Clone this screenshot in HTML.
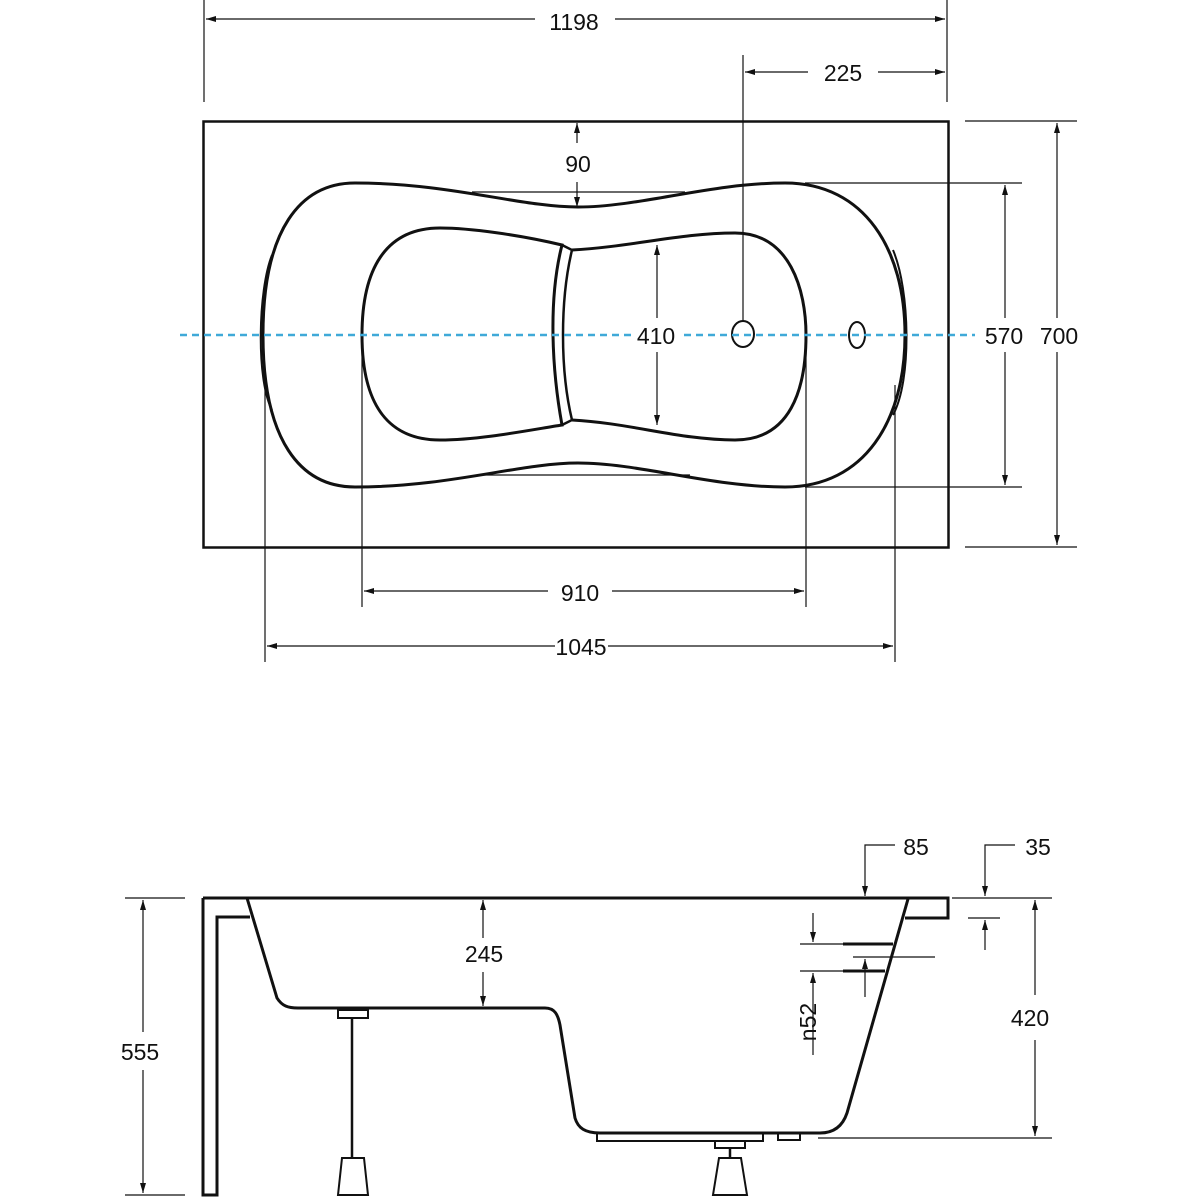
<!DOCTYPE html>
<html><head><meta charset="utf-8"><style>
html,body{margin:0;padding:0;background:#fff;}
svg{display:block;}
text{font-family:"Liberation Sans",Arial,sans-serif;font-size:23px;fill:#111;}
</style></head><body>
<svg width="1200" height="1200" viewBox="0 0 1200 1200" xmlns="http://www.w3.org/2000/svg">
<defs>
<marker id="a" markerWidth="10" markerHeight="6" refX="10" refY="3" orient="auto-start-reverse" markerUnits="userSpaceOnUse">
<path d="M0,0 L10,3 L0,6 z" fill="#111"/></marker>
</defs>
<g stroke="#111" fill="none" stroke-width="1.2">
<line x1="204" y1="0" x2="204" y2="102"/>
<line x1="947" y1="0" x2="947" y2="102"/>
<line x1="206" y1="19" x2="535" y2="19" marker-start="url(#a)"/>
<line x1="615" y1="19" x2="945" y2="19" marker-end="url(#a)"/>
<line x1="743" y1="55" x2="743" y2="322"/>
<line x1="745" y1="72" x2="808" y2="72" marker-start="url(#a)"/>
<line x1="878" y1="72" x2="945" y2="72" marker-end="url(#a)"/>
<line x1="577" y1="123" x2="577" y2="143" marker-start="url(#a)"/>
<line x1="577" y1="182" x2="577" y2="207" marker-end="url(#a)"/>
<line x1="472" y1="192" x2="685" y2="192"/>
<line x1="480" y1="475" x2="690" y2="475"/>
<line x1="657" y1="245" x2="657" y2="318" marker-start="url(#a)"/>
<line x1="657" y1="352" x2="657" y2="425" marker-end="url(#a)"/>
<line x1="805" y1="183" x2="1022" y2="183"/>
<line x1="805" y1="487" x2="1022" y2="487"/>
<line x1="1005" y1="185" x2="1005" y2="318" marker-start="url(#a)"/>
<line x1="1005" y1="352" x2="1005" y2="485" marker-end="url(#a)"/>
<line x1="965" y1="121" x2="1077" y2="121"/>
<line x1="965" y1="547" x2="1077" y2="547"/>
<line x1="1057" y1="123" x2="1057" y2="318" marker-start="url(#a)"/>
<line x1="1057" y1="352" x2="1057" y2="545" marker-end="url(#a)"/>
<line x1="362" y1="335" x2="362" y2="607"/>
<line x1="806" y1="335" x2="806" y2="607"/>
<line x1="364" y1="591" x2="548" y2="591" marker-start="url(#a)"/>
<line x1="612" y1="591" x2="804" y2="591" marker-end="url(#a)"/>
<line x1="265" y1="390" x2="265" y2="662"/>
<line x1="895" y1="385" x2="895" y2="662"/>
<line x1="267" y1="646" x2="555" y2="646" marker-start="url(#a)"/>
<line x1="608" y1="646" x2="893" y2="646" marker-end="url(#a)"/>
</g>
<rect x="203.5" y="121.5" width="745" height="426" fill="none" stroke="#111" stroke-width="2.5"/>
<g stroke="#111" fill="none" stroke-width="3">
<path d="M263,335 C263,230 300,183 355,183 C450,183 520,207 578,207 C640,207 710,183 785,183 C865,183 905,250 905,335 C905,420 865,487 785,487 C710,487 640,463 578,463 C520,463 450,487 355,487 C300,487 263,440 263,335 Z"/>
<path d="M272,255 C258,290 256,380 272,410" stroke-width="2"/>
<path d="M893,250 C910,290 912,380 893,415" stroke-width="2"/>
<path d="M562,245 C520,235 470,228 440,228 C385,228 362,270 362,335 C362,400 385,440 440,440 C480,440 530,430 562,425 C552,370 548,300 562,245 Z"/>
<path d="M562,245 L572,250 C560,300 560,370 572,420 L562,425" stroke-width="2.5"/>
<path d="M572,250 C630,247 680,233 735,233 C790,233 806,290 806,335 C806,390 790,440 735,440 C680,440 630,423 572,420"/>
<ellipse cx="743" cy="334" rx="11" ry="13" stroke-width="2"/>
<ellipse cx="857" cy="335" rx="8" ry="13" stroke-width="2"/>
</g>
<line x1="180" y1="335" x2="975" y2="335" stroke="#3fa9d8" stroke-width="2.5" stroke-dasharray="7,5"/>
<g text-anchor="middle">
<rect x="538" y="5" width="76" height="28" fill="#fff"/>
<text x="574" y="30">1198</text>
<text x="843" y="81">225</text>
<text x="578" y="172">90</text>
<rect x="631" y="320" width="52" height="30" fill="#fff"/>
<text x="656" y="344">410</text>
<rect x="978" y="320" width="54" height="30" fill="#fff"/>
<text x="1004" y="344">570</text>
<rect x="1033" y="320" width="52" height="30" fill="#fff"/>
<text x="1059" y="344">700</text>
<text x="580" y="601">910</text>
<text x="581" y="655">1045</text>
</g>
<g stroke="#111" fill="none" stroke-width="3">
<line x1="203" y1="898" x2="948" y2="898"/>
<path d="M203,898 L203,1195 L217,1195 L217,917 L250,917"/>
<path d="M247,898 L277,998 C282,1006 288,1008 298,1008 L545,1008 C555,1008 558,1015 560,1025 L575,1118 C578,1128 585,1133 600,1133 L820,1133 C835,1133 843,1125 847,1113 L908,899"/>
<path d="M905,898 L948,898 L948,918 L905,918"/>
<rect x="597" y="1133" width="166" height="8" stroke-width="2"/>
<path d="M778,1133 L778,1140 L800,1140 L800,1133" stroke-width="2"/>
<rect x="715" y="1141" width="30" height="7" stroke-width="2"/>
<line x1="730" y1="1148" x2="730" y2="1158" stroke-width="2.5"/>
<path d="M719,1158 L741,1158 L747,1195 L713,1195 Z" stroke-width="2"/>
<rect x="338" y="1010" width="30" height="8" stroke-width="2"/>
<line x1="352" y1="1018" x2="352" y2="1158" stroke-width="2.5"/>
<path d="M342,1158 L364,1158 L368,1195 L338,1195 Z" stroke-width="2"/>
<line x1="843" y1="944" x2="893" y2="944"/>
<line x1="843" y1="971" x2="885" y2="971"/>
</g>
<g stroke="#111" fill="none" stroke-width="1.2">
<line x1="483" y1="900" x2="483" y2="938" marker-start="url(#a)"/>
<line x1="483" y1="972" x2="483" y2="1006" marker-end="url(#a)"/>
<line x1="125" y1="898" x2="185" y2="898"/>
<line x1="125" y1="1195" x2="185" y2="1195"/>
<line x1="143" y1="900" x2="143" y2="1032" marker-start="url(#a)"/>
<line x1="143" y1="1070" x2="143" y2="1193" marker-end="url(#a)"/>
<line x1="952" y1="898" x2="1052" y2="898"/>
<line x1="818" y1="1138" x2="1052" y2="1138"/>
<line x1="1035" y1="900" x2="1035" y2="995" marker-start="url(#a)"/>
<line x1="1035" y1="1040" x2="1035" y2="1136" marker-end="url(#a)"/>
<path d="M895,845 L865,845 L865,896" marker-end="url(#a)"/>
<path d="M1015,845 L985,845 L985,896" marker-end="url(#a)"/>
<line x1="968" y1="918" x2="1000" y2="918"/>
<line x1="985" y1="950" x2="985" y2="920" marker-end="url(#a)"/>
<line x1="800" y1="944" x2="843" y2="944"/>
<line x1="800" y1="971" x2="843" y2="971"/>
<line x1="853" y1="957" x2="935" y2="957"/>
<line x1="813" y1="913" x2="813" y2="942" marker-end="url(#a)"/>
<line x1="813" y1="1055" x2="813" y2="973" marker-end="url(#a)"/>
<line x1="865" y1="997" x2="865" y2="959" marker-end="url(#a)"/>
</g>
<g text-anchor="middle">
<text x="484" y="962">245</text>
<text x="140" y="1060">555</text>
<text x="1030" y="1026">420</text>
<text x="916" y="855">85</text>
<text x="1038" y="855">35</text>
<text x="0" y="0" transform="translate(816,1022) rotate(-90)">n52</text>
</g>
</svg>
</body></html>
